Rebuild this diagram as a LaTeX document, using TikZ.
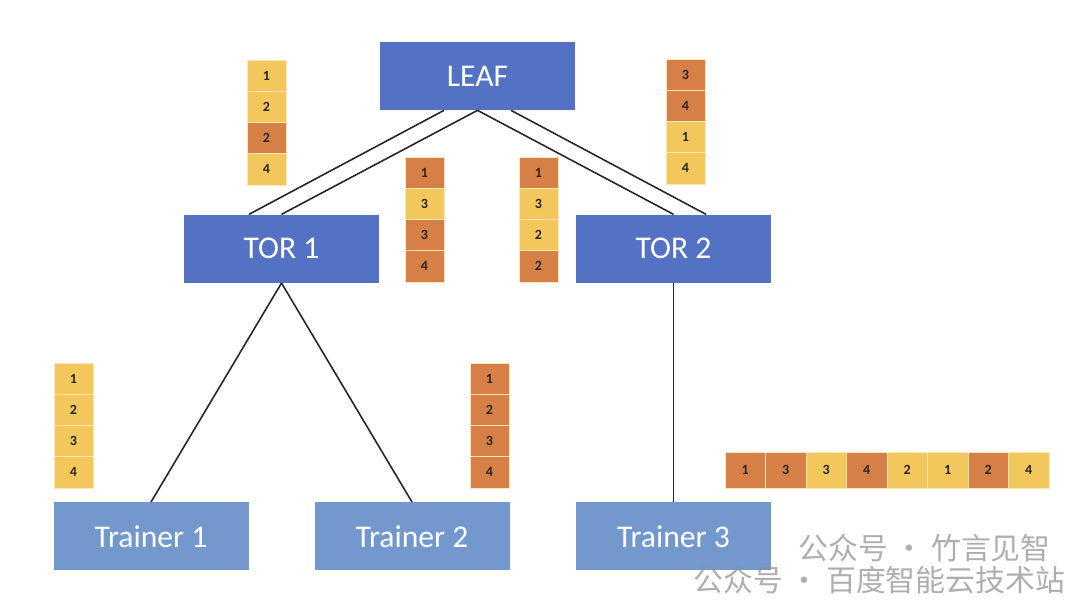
\documentclass[tikz,border=0pt]{standalone}
\usepackage{fontspec}
\setmainfont{Carlito}
\newfontfamily\cjkfont{Noto Sans CJK SC}
\usetikzlibrary{positioning}
\definecolor{leafblue}{RGB}{84,114,196}
\definecolor{trainblue}{RGB}{114,152,206}
\definecolor{pktyellow}{RGB}{242,200,92}
\definecolor{pktorange}{RGB}{214,128,72}

\begin{document}
\begin{tikzpicture}[
            switch/.style={fill=leafblue, text=white, minimum width=3.9cm, minimum height=1.36cm, inner sep=0pt, font=\fontsize{18}{20}\selectfont},
            trainer/.style={switch, fill=trainblue},
            pkt/.style={draw=white!55!pktyellow, line width=0.3pt, minimum width=0.78cm, minimum height=0.625cm, inner sep=0pt, text=black!85, font=\bfseries\fontsize{8}{9}\selectfont},
            hpkt/.style={pkt, minimum width=0.81cm, minimum height=0.72cm},
            link/.style={line width=0.9pt, black!85},
            wmark/.style={text=black!45, opacity=0.7, inner sep=0pt, font=\cjkfont\fontsize{17}{19}\selectfont}
        ]
        \useasboundingbox (0,0) rectangle (21.6,12.16);

        \node[switch] (leaf) at (9.55,10.64) {LEAF};
        \node[switch, below=2.08cm of leaf, xshift=-3.92cm] (tor1) {TOR 1};
        \node[switch, below=2.08cm of leaf, xshift=3.92cm] (tor2) {TOR 2};
        \node[trainer, below=4.38cm of tor1, xshift=-2.61cm] (trainer1) {Trainer 1};
        \node[trainer, below=4.38cm of tor1, xshift=2.61cm] (trainer2) {Trainer 2};
        \node[trainer, below=4.38cm of tor2] (trainer3) {Trainer 3};

        \draw[link] ([xshift=-0.67cm]leaf.south) -- ([xshift=-0.65cm]tor1.north);
        \draw[link] (leaf.south) -- (tor1.north);
        \draw[link] (leaf.south) -- (tor2.north);
        \draw[link] ([xshift=0.67cm]leaf.south) -- ([xshift=0.65cm]tor2.north);
        \draw[link] (tor1.south) -- (trainer1.north);
        \draw[link] (tor1.south) -- (trainer2.north);
        \draw[link] (tor2.south) -- (trainer3.north);

        % packet queues
        \foreach \n/\c [count=\i] in {1/pktyellow,2/pktyellow,2/pktorange,4/pktyellow}
            \node[pkt, fill=\c] (qa\i) at (5.33,{11.2725-0.625*\i}) {\n};
        \foreach \n/\c [count=\i] in {1/pktorange,3/pktyellow,3/pktorange,4/pktorange}
            \node[pkt, fill=\c] (qb\i) at (8.49,{9.3325-0.625*\i}) {\n};
        \foreach \n/\c [count=\i] in {1/pktorange,3/pktyellow,2/pktyellow,2/pktorange}
            \node[pkt, fill=\c] (qc\i) at (10.77,{9.3325-0.625*\i}) {\n};
        \foreach \n/\c [count=\i] in {3/pktorange,4/pktorange,1/pktyellow,4/pktyellow}
            \node[pkt, fill=\c] (qd\i) at (13.71,{11.2925-0.625*\i}) {\n};
        \foreach \n [count=\i] in {1,2,3,4}
            \node[pkt, fill=pktyellow] (qe\i) at (1.47,{5.2125-0.625*\i}) {\n};
        \foreach \n [count=\i] in {1,2,3,4}
            \node[pkt, fill=pktorange] (qf\i) at (9.79,{5.2125-0.625*\i}) {\n};
        \foreach \n/\c [count=\i] in {1/pktorange,3/pktorange,3/pktyellow,4/pktorange,2/pktyellow,1/pktyellow,2/pktorange,4/pktyellow}
            \node[hpkt, fill=\c] (qg\i) at ({14.095+0.81*\i},2.76) {\n};

        \node[wmark, anchor=west] (wm1) at (15.96,1.2) {公众号 · 竹言见智};
        \node[wmark, anchor=west] (wm2) at (13.86,0.56) {公众号 · 百度智能云技术站};
    \end{tikzpicture}
\end{document}
